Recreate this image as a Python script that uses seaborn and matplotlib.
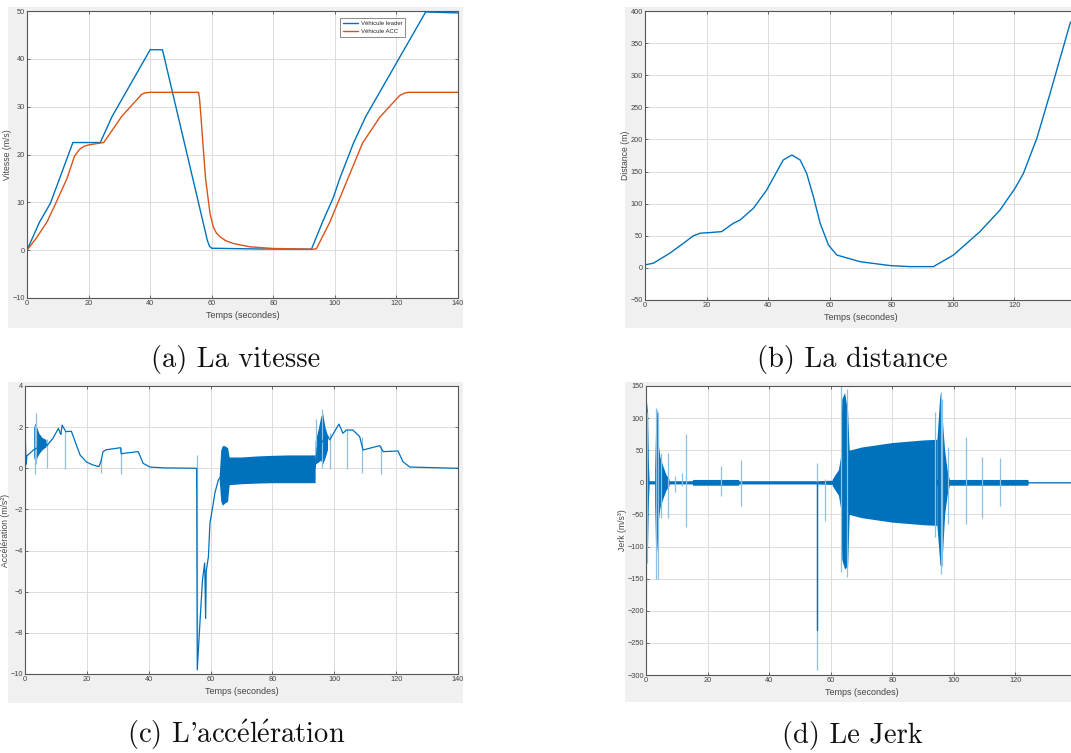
import numpy as np
import pandas as pd
import matplotlib
matplotlib.use('Agg')
import matplotlib.pyplot as plt
from matplotlib.patches import Rectangle
import seaborn as sns

# ---- data ----
# (a) vitesse
lead_t = [0, 4.1, 7.6, 10.6, 14.9, 23.8, 27.6, 40.0, 44.0, 58.6, 59.3, 60.0, 75, 92.4, 96.0, 99.5, 101.6,
          106.0, 110.0, 129.5, 140]
lead_v = [0, 5.9, 9.8, 15.0, 22.5, 22.5, 27.9, 41.9, 41.9, 2.0, 0.8, 0.4, 0.25, 0.2, 5.9, 11.0, 15.0,
          22.3, 27.9, 49.8, 49.6]
acc_t = [0, 3.0, 6.5, 9.2, 13.0, 15.4, 16.5, 17.3, 18.5, 20.0, 23.8, 24.9, 27.6, 30.8, 37.3, 38.5, 40.0,
         55.7, 56.0, 56.5, 57.3, 58.0, 58.9, 59.5, 60.5, 61.5, 62.7, 64.5, 67.0, 72.4, 80.0, 93.0, 94.0,
         98.4, 103.8, 109.0, 114.6, 121.0, 122.5, 124.0, 140]
acc_v = [0, 2.5, 5.9, 9.6, 15.0, 19.6, 20.6, 21.2, 21.7, 22.0, 22.4, 22.5, 25.0, 28.0, 32.6, 32.9, 33.0,
         33.0, 32.0, 28.0, 20.9, 15.0, 10.4, 7.5, 4.9, 3.6, 2.8, 2.0, 1.4, 0.7, 0.35, 0.2, 0.3,
         5.9, 14.3, 22.4, 27.8, 32.3, 32.8, 33.0, 33.0]

# (b) distance
dist_t = [0, 2.7, 8.1, 12.4, 15.7, 17.9, 21.1, 24.9, 28.7, 30.9, 35.2, 39.5, 42.8, 44.9, 47.7, 50.4,
          52.5, 54.7, 56.9, 59.6, 62.3, 69.9, 79.6, 86.0, 93.7, 100.2, 108.8, 115.3, 120.2, 122.9,
          127.3, 131.6, 138.1, 140]
dist_d = [4.7, 7.3, 23, 38, 50, 54, 55, 56.5, 69.5, 74.6, 92.8, 121, 149.8, 168, 175.8, 168,
          147.3, 111, 69.4, 35.6, 20, 9.6, 3.6, 2, 2, 20, 56.5, 90, 124, 147,
          202, 272, 381, 395]

# (c) acceleration: main trace, dense bands, light spikes
acca_t = [0, 0.4, 0.6, 2.8, 6.8, 7.1, 9.0, 10.8, 11.4, 11.6, 12.0, 12.9, 13.2, 15.0, 16.2, 17.8, 19.9, 22.0,
          23.9, 24.6, 25.2, 26.2, 30.9, 31.1, 31.6, 36.6, 38.2, 40.4, 45.0, 55.5, 55.7, 56.6, 57.4, 58.1,
          58.4, 58.6, 59.3, 59.8, 60.7, 61.4, 62.5, 63.3, 63.6, 93.8, 94.5, 97.8, 98.5, 101.5, 102.8,
          103.9, 106.0, 108.2, 109.3, 114.7, 115.8, 120.6, 122.2, 124.4, 140]
acca_a = [1.7, 0.2, 0.6, 0.9, 1.2, 1.1, 1.45, 1.94, 1.7, 1.65, 2.1, 1.86, 1.78, 1.8, 1.3, 0.65, 0.3, 0.16,
          0.08, 0.35, 0.8, 0.9, 1.0, 0.7, 0.72, 0.81, 0.24, 0.06, 0.02, 0.0, -9.8, -7.4, -5.4, -4.6,
          -7.3, -5.0, -4.3, -2.66, -1.87, -1.2, -0.57, -0.4, -0.3, 0.0, 1.0, 1.6, 1.38, 2.15, 1.7,
          1.86, 1.86, 1.54, 0.89, 1.1, 0.81, 0.84, 0.32, 0.06, 0.0]
accb1_t = [2.8, 3.3, 3.8, 4.5, 5.5, 6.8]
accb1_hi = [2.0, 2.2, 2.0, 1.7, 1.5, 1.4]
accb1_lo = [0.5, 0.4, 0.5, 0.7, 0.9, 1.05]
accb2_t = [62.8, 63.3, 63.8, 64.5, 65.5, 66.0, 70, 75, 80, 85, 90, 93.8]
accb2_hi = [-0.3, 0.9, 1.1, 1.1, 1.0, 0.55, 0.55, 0.6, 0.63, 0.65, 0.65, 0.65]
accb2_lo = [-0.6, -1.6, -1.8, -1.7, -1.6, -0.8, -0.75, -0.72, -0.7, -0.7, -0.7, -0.7]
accb3_t = [93.8, 94.8, 95.6, 96.2, 97.0, 97.8]
accb3_hi = [1.3, 1.9, 2.5, 2.7, 2.0, 1.6]
accb3_lo = [0.2, 0.3, 0.4, 0.2, 0.5, 0.9]
accs_t = [0.1, 3.3, 3.6, 7.0, 13.0, 24.6, 31.0, 55.5, 94.1, 96.0, 98.6, 104.0, 109.0, 115.0]
accs_lo = [-2.7, -0.3, 0.2, 0.0, -0.05, -0.25, -0.3, -8.7, 0.5, 0.0, -0.05, -0.05, -0.25, -0.3]
accs_hi = [2.3, 2.1, 2.7, 1.4, 1.8, 0.5, 1.0, 0.65, 2.4, 2.9, 1.7, 1.9, 1.5, 1.1]

# (d) jerk: noise floor, dense bands, light spikes
jn_t = [0, 15, 15.2, 30, 30.2, 55, 62, 98.5, 124, 124.2, 140]
jn_hi = [2.5, 2.5, 4.5, 4.5, 2.5, 2.5, 3.5, 4.5, 4.5, 1.0, 1.0]
jn_lo = [-2.5, -2.5, -4.5, -4.5, -2.5, -2.5, -3.5, -4.5, -4.5, -1.0, -1.0]
jb_t = [[0, 0.2, 0.5, 0.8, 1.0],
        [2.8, 3.2, 3.6, 4.0, 4.5, 5.5, 6.5, 7.5],
        [60.5, 62.5, 63.2, 63.6, 64.5, 65.5, 66.0, 70, 80, 90, 94.5],
        [94.5, 95.5, 96.2, 97.0, 97.8, 98.5]]
jb_hi = [[70, 125, 110, 30, 5],
         [20, 100, 115, 60, 40, 25, 12, 5],
         [5, 20, 40, 130, 140, 110, 50, 55, 62, 66, 67],
         [67, 140, 100, 50, 20, 5]]
jb_lo = [[-60, -125, -100, -30, -5],
         [-30, -120, -100, -60, -40, -25, -12, -5],
         [-5, -20, -40, -120, -135, -130, -50, -55, -62, -66, -67],
         [-67, -130, -120, -50, -20, -5]]
js_t = [0.05, 0.4, 3.3, 3.8, 4.8, 7.0, 9.4, 11.8, 13.0, 24.5, 31.0, 55.5, 55.6, 58.0,
        63.3, 65.2, 94.0, 95.8, 96.3, 98.0, 104.0, 109.0, 115.0]
js_hi = [125, 110, 115, 110, 45, 45, 10, 15, 75, 25, 35, 30, 0, 5,
         150, 145, 110, 140, 130, 55, 70, 40, 38]
js_lo = [-200, -125, -150, -150, -55, -55, -15, -5, -70, -22, -37, -5, -292, -60,
         -140, -148, -85, -143, -130, -65, -65, -55, -37]

time_ticks = list(range(0, 141, 20))

BLUE = '#0072BD'
ORANGE = '#D95319'
LIGHT = '#8cc0e4'

sns.set_theme(style='whitegrid')
plt.rcParams['font.family'] = ['Liberation Sans', 'DejaVu Sans']
plt.rcParams['mathtext.fontset'] = 'cm'

W, H = 1071, 753
fig = plt.figure(figsize=(W / 100, H / 100), dpi=100)


def px_axes(l, t, r, b):
    return fig.add_axes([l / W, 1 - b / H, (r - l) / W, (b - t) / H])


def grey_box(l, t, r, b):
    fig.patches.append(Rectangle((l / W, 1 - b / H), (r - l) / W, (b - t) / H,
                                 transform=fig.transFigure, facecolor='#f0f0f0',
                                 edgecolor='none', zorder=-5))


def matlab_style(ax, ylim, yticks, ylabel, last_label=True):
    ax.set_facecolor('white')
    ax.set_xlim(0, 140)
    ax.set_ylim(*ylim)
    labels = [str(v) for v in time_ticks]
    if not last_label:
        labels[-1] = ''
    ax.set_xticks(time_ticks, labels=labels)
    ax.set_yticks(yticks)
    ax.grid(True, color='#dcdcdc', lw=0.7)
    for s in ax.spines.values():
        s.set_color('#555555')
        s.set_linewidth(0.8)
        s.set_visible(True)
    ax.tick_params(direction='in', length=2.5, width=0.6, labelsize=5.3,
                   colors='#555555', labelcolor='#444444', pad=1.5,
                   top=True, right=True, bottom=True, left=True)
    ax.set_xlabel('Temps (secondes)', fontsize=6.5, color='#444444', labelpad=3)
    ax.set_ylabel(ylabel, fontsize=6.2, color='#444444', labelpad=0.5)


for box in [(8, 7, 463, 328), (625, 7, 1071, 328), (8, 382, 463, 703), (625, 382, 1071, 702)]:
    grey_box(*box)

# (a)
ax = px_axes(27, 11, 458, 298)
sns.lineplot(x=lead_t, y=lead_v, ax=ax, color=BLUE, lw=1.0, estimator=None, sort=False,
             label='Véhicule leader')
sns.lineplot(x=acc_t, y=acc_v, ax=ax, color=ORANGE, lw=1.0, estimator=None, sort=False,
             label='Véhicule ACC')
matlab_style(ax, (-10, 50), range(-10, 51, 10), 'Vitesse (m/s)')
leg = ax.legend(loc='upper right', bbox_to_anchor=(0.885, 0.986), fontsize=4.3,
                frameon=True, fancybox=False, handlelength=2.6, borderpad=0.5,
                labelspacing=0.5, handletextpad=0.4)
leg.get_frame().set_edgecolor('#555555')
leg.get_frame().set_linewidth(0.6)

# (b)
ax = px_axes(645, 11, 1076, 300)
sns.lineplot(x=dist_t, y=dist_d, ax=ax, color=BLUE, lw=1.0, estimator=None, sort=False)
matlab_style(ax, (-50, 400), range(-50, 401, 50), 'Distance (m)', last_label=False)

# (c)
ax = px_axes(25, 386, 458, 674)
ax.vlines(accs_t, accs_lo, accs_hi, color=LIGHT, lw=0.9)
for bt, bh, bl in [(accb1_t, accb1_hi, accb1_lo), (accb2_t, accb2_hi, accb2_lo),
                   (accb3_t, accb3_hi, accb3_lo)]:
    ax.fill_between(bt, bl, bh, color=BLUE, lw=0)
sns.lineplot(x=acca_t, y=acca_a, ax=ax, color=BLUE, lw=0.9, estimator=None, sort=False)
matlab_style(ax, (-10, 4), range(-10, 5, 2), 'Accélération (m/s²)')

# (d)
ax = px_axes(646, 386, 1077, 675)
ax.fill_between(jn_t, jn_lo, jn_hi, color=BLUE, lw=0)
ax.vlines(js_t, js_lo, js_hi, color=LIGHT, lw=0.9)
for bt, bh, bl in zip(jb_t, jb_hi, jb_lo):
    ax.fill_between(bt, bl, bh, color=BLUE, lw=0)
sns.lineplot(x=[55.6, 55.6], y=[0, -230], ax=ax, color=BLUE, lw=1.0, estimator=None, sort=False)
matlab_style(ax, (-300, 150), range(-300, 151, 50), 'Jerk (m/s³)', last_label=False)

# captions
cap_font = ['cmr10', 'DejaVu Serif']
e_acute = r'$\mathrm{\acute{e}}$'
for x, y, txt in [(236, 359, '(a) La vitesse'), (852, 359, '(b) La distance'),
                  (236, 735, "(c) L'acc" + e_acute + 'l' + e_acute + 'ration'),
                  (852, 735, '(d) Le Jerk')]:
    fig.text(x / W, 1 - y / H, txt, ha='center', va='center', fontsize=20.5,
             family=cap_font, color='#111111')

fig.savefig('out.png', dpi=100)
